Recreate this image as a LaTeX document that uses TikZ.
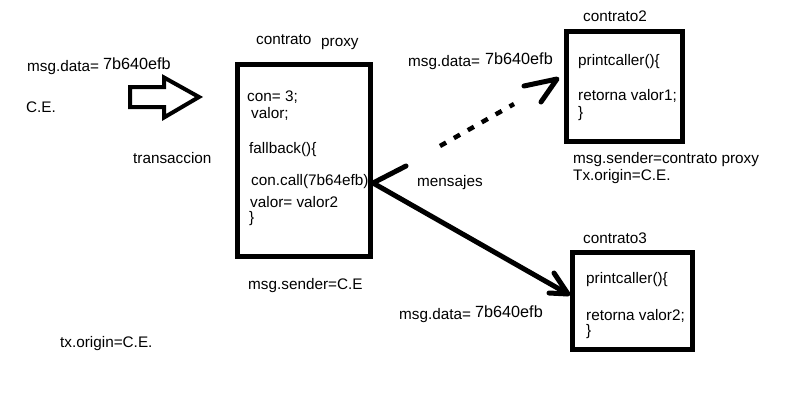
\documentclass[tikz,border=0pt]{standalone}
\usepackage{fontspec}
\setmainfont{Liberation Sans}
\begin{document}
\begin{tikzpicture}[x=1pt,y=-1pt,
  txt/.style={anchor=base west,inner sep=0pt,font=\fontsize{15.3}{18}\selectfont},
  hex/.style={anchor=base west,inner sep=0pt,font=\fontsize{16.2}{19}\selectfont},
  box/.style={draw,line width=5pt,inner sep=0pt},
  blockarrow/.style={draw,line width=4pt,line join=miter},
  dashconn/.style={line width=4.5pt,dash pattern=on 7pt off 9pt},
  solidconn/.style={line width=5pt},
  barb/.style={line width=5pt,line cap=round,line join=round}
]
\useasboundingbox (0,0) rectangle (804,416);

% boxes
\node[box,minimum width=133pt,minimum height=192pt] (proxy) at (304,160.5) {};
\node[box,minimum width=116pt,minimum height=110pt] (c2) at (624.5,86.5) {};
\node[box,minimum width=120pt,minimum height=97pt] (c3) at (632.5,301) {};

% left side texts
\node[txt] (md1) at (27,71.5) {msg.data=};
\node[hex] (hx1) at (103,69) {7b640efb};
\node[txt] (ce) at (26,112.5) {C.E.};
\node[txt] (tr) at (133,163) {transaccion};
\node[txt] (txo) at (60,347) {tx.origin=C.E.};

% block arrow
\draw[blockarrow] (130,87) -- (164,87) -- (164,77.5) -- (199,97) -- (164,117.5)
  -- (164,107) -- (130,107) -- cycle;

% proxy texts
\node[txt] (ct) at (256,44) {contrato};
\node[txt] (px) at (321,46) {proxy};
\node[txt] (p1) at (247,101) {con= 3;};
\node[txt] (p2) at (251,118) {valor;};
\node[txt] (p3) at (249,153) {fallback()\{};
\node[txt] (p4) at (251,185) {con.call(7b64efb)};
\node[txt] (p5) at (250,207) {valor= valor2};
\node[txt] (p6) at (249,222) {\}};
\node[txt] (ms1) at (248,289) {msg.sender=C.E};

% contrato2
\node[txt] (c2t) at (583,21.5) {contrato2};
\node[txt] (md2) at (408,66) {msg.data=};
\node[hex] (hx2) at (485,64) {7b640efb};
\node[txt] (q1) at (578,65) {printcaller()\{};
\node[txt] (q2) at (578,100) {retorna valor1;};
\node[txt] (q3) at (578,117) {\}};
\node[txt] (ms2) at (573,163) {msg.sender=contrato proxy};
\node[txt] (tx2) at (573,180) {Tx.origin=C.E.};
\node[txt] (men) at (417,186) {mensajes};

% contrato3
\node[txt] (c3t) at (583,243) {contrato3};
\node[txt] (r1) at (586,283) {printcaller()\{};
\node[txt] (r2) at (586,320) {retorna valor2;};
\node[txt] (r3) at (586,335) {\}};
\node[txt] (md3) at (399,319) {msg.data=};
\node[hex] (hx3) at (475,317) {7b640efb};

% dashed connector to contrato2
\coordinate (dstart) at (440,146);
\coordinate (dend) at (514,104);
\coordinate (dtip) at (557,79);
\coordinate (dbarbA) at (524,86);
\coordinate (dbarbB) at (541,102);
\draw[dashconn] (dstart) -- (dend);
\draw[barb] (dbarbA) -- (dtip) -- (dbarbB);

% solid connector proxy -> contrato3
\coordinate (ptip) at (373,183);
\coordinate (pbarb) at (406,166);
\coordinate (c3tip) at (568,294);
\coordinate (cbarbA) at (554,273);
\coordinate (cbarbB) at (549,293);
\draw[solidconn] (ptip) -- (c3tip);
\draw[barb] (cbarbA) -- (c3tip) -- (cbarbB);
\draw[barb] (pbarb) -- (ptip);
\end{tikzpicture}
\end{document}
